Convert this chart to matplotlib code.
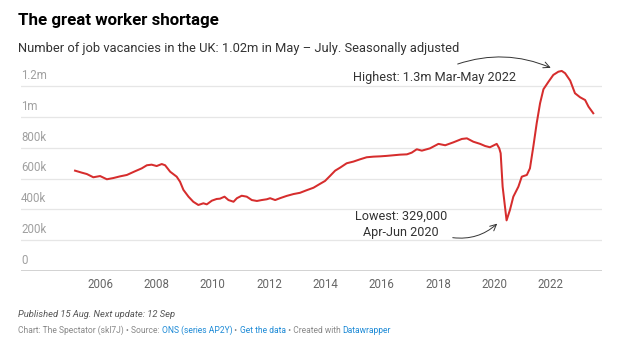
import matplotlib
matplotlib.use("Agg")
import matplotlib.pyplot as plt
import matplotlib.transforms as mtransforms

plt.rcParams['font.family'] = ['Roboto', 'DejaVu Sans']

# job vacancies, UK, thousands (mid-point of rolling quarter)
dates = [2005.11, 2005.35, 2005.53, 2005.76, 2006.00, 2006.24, 2006.47, 2006.71, 2006.95,
         2007.24, 2007.48, 2007.66, 2007.83, 2008.01, 2008.19, 2008.31, 2008.49, 2008.72,
         2008.84, 2008.96, 2009.14, 2009.31, 2009.49, 2009.67, 2009.79, 2009.97, 2010.14,
         2010.26, 2010.42, 2010.56, 2010.74, 2010.86, 2011.03, 2011.21, 2011.39, 2011.57,
         2011.74, 2011.92, 2012.04, 2012.22, 2012.39, 2012.63, 2012.87, 2013.10, 2013.34,
         2013.58, 2013.81, 2013.99, 2014.17, 2014.35, 2014.53, 2014.76, 2015.00, 2015.24,
         2015.47, 2015.71, 2015.95, 2016.18, 2016.42, 2016.66, 2016.90, 2017.07, 2017.25,
         2017.43, 2017.72, 2018.02, 2018.26, 2018.55, 2018.85, 2019.03, 2019.26, 2019.50,
         2019.68, 2019.85, 2020.09, 2020.18, 2020.23, 2020.30, 2020.44, 2020.56, 2020.68,
         2020.86, 2020.98, 2021.16, 2021.27, 2021.39, 2021.51, 2021.63, 2021.75, 2021.93,
         2022.10, 2022.28, 2022.40, 2022.52, 2022.70, 2022.87, 2023.05, 2023.23, 2023.35,
         2023.52]
vacancies = [652, 639, 630, 609, 617, 596, 604, 615, 624,
             648, 667, 687, 691, 682, 695, 687, 645, 613,
             580, 527, 483, 450, 429, 440, 433, 457, 468,
             470, 483, 461, 450, 473, 489, 483, 461, 455,
             461, 466, 473, 461, 473, 488, 500, 508, 525,
             541, 566, 585, 618, 652, 672, 700, 711, 726,
             739, 743, 745, 748, 752, 756, 758, 769, 791,
             782, 797, 826, 817, 836, 858, 862, 840, 826,
             812, 804, 826, 797, 765, 548, 329, 397, 483,
             548, 613, 624, 667, 808, 960, 1090, 1181, 1230,
             1274, 1295, 1300, 1285, 1237, 1155, 1129, 1111, 1068,
             1025]

y_ticks = [0, 200, 400, 600, 800, 1000, 1200]
y_labels = ['0', '200k', '400k', '600k', '800k', '1m', '1.2m']
x_ticks = [2006, 2008, 2010, 2012, 2014, 2016, 2018, 2020, 2022]

W, H = 619, 356
fig = plt.figure(figsize=(W / 100, H / 100), dpi=100)
ax = fig.add_axes([21 / W, 85 / H, 581 / W, 211 / H])

ax.plot(dates, vacancies, color='#d62d2d', lw=1.45, solid_joinstyle='round', zorder=3)

ax.set_xlim(2003.19, 2023.83)
ax.set_ylim(0, 1371)
ax.set_yticks(y_ticks)
ax.yaxis.grid(True, color='#e6e6e6', lw=0.9)
ax.tick_params(axis='y', left=False, labelleft=False)
ax.axhline(0, color='#333333', lw=1.0, zorder=4)
for s in ax.spines.values():
    s.set_visible(False)

trans = mtransforms.blended_transform_factory(ax.transAxes, ax.transData)
for v, lab in zip(y_ticks, y_labels):
    ax.annotate(lab, xy=(0, v), xycoords=trans, xytext=(0, 3), textcoords='offset points',
                ha='left', va='bottom', fontsize=8.3, color='#a0a0a0')

ax.set_xticks(x_ticks)
ax.set_xticklabels([str(x) for x in x_ticks])
ax.tick_params(axis='x', length=0, pad=5, labelsize=8.3, labelcolor='#666666')

# annotations
arr = dict(arrowstyle='->,head_length=0.45,head_width=0.22', color='#333333', lw=0.7)
ax.text(2017.88, 1259, 'Highest: 1.3m Mar-May 2022', ha='center', va='center',
        fontsize=9.1, color='#333333')
ax.annotate('', xy=(2022.10, 1313), xytext=(2018.61, 1339),
            arrowprops=dict(connectionstyle='arc3,rad=-0.2', **arr))
ax.text(2016.69, 303, 'Lowest: 329,000\nApr-Jun 2020', ha='center', va='center',
        fontsize=9.1, color='#333333', linespacing=1.3)
ax.annotate('', xy=(2020.18, 320), xytext=(2018.43, 219),
            arrowprops=dict(connectionstyle='arc3,rad=0.25', **arr))

# header
fig.text(18 / W, 1 - 25 / H, 'The great worker shortage', fontsize=12.2, fontweight='bold',
         color='#000000', va='baseline')
fig.text(18 / W, 1 - 51.7 / H, 'Number of job vacancies in the UK: 1.02m in May \u2013 July. Seasonally adjusted',
         fontsize=9.3, color='#333333', va='baseline')

# footer
fig.text(18 / W, 1 - 317.3 / H, 'Published 15 Aug. Next update: 12 Sep', fontsize=6.75,
         style='italic', color='#555555', va='baseline')

pieces = [('Chart: The Spectator (skl7J) \u2022 Source: ', '#888888'),
          ('ONS (series AP2Y)', '#1d8ad6'),
          (' \u2022 ', '#888888'),
          ('Get the data', '#1d8ad6'),
          (' \u2022 Created with ', '#888888'),
          ('Datawrapper', '#1d8ad6')]
renderer = fig.canvas.get_renderer()
x = 18
for txt, col in pieces:
    t = fig.text(x / W, 1 - 333.3 / H, txt, fontsize=6.15, color=col, va='baseline')
    bb = t.get_window_extent(renderer=renderer)
    x += bb.width

fig.savefig('out.png', dpi=100)
